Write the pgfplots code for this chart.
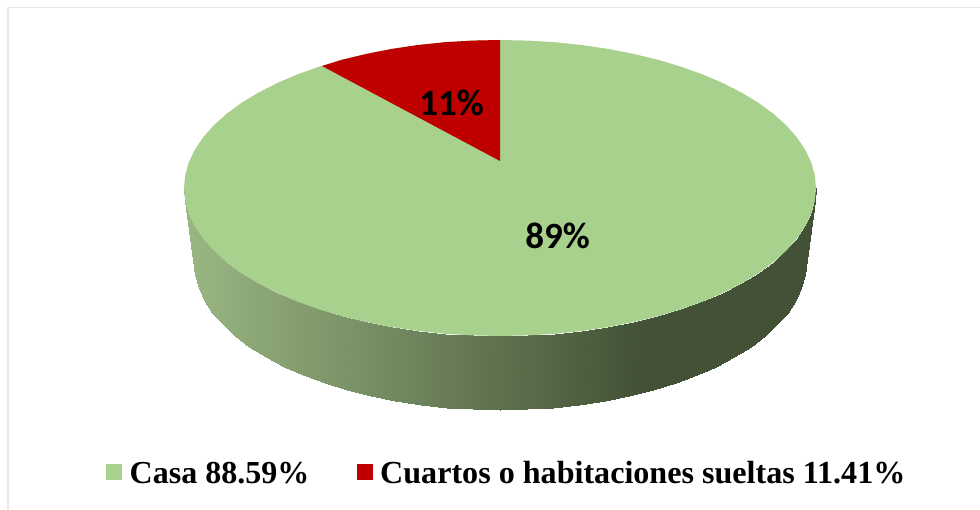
\documentclass[border=0pt]{standalone}
\usepackage{pgfplots}
\pgfplotsset{compat=1.18}
\usepackage{fontspec}
\setmainfont{Liberation Serif}
\newfontfamily\calib{Carlito}
\definecolor{casa}{HTML}{A9D18E}
\definecolor{cuartos}{HTML}{BE0000}
\definecolor{marco}{HTML}{E6E9EC}
\begin{document}
\begin{tikzpicture}
\useasboundingbox (0,0) rectangle (980pt,510pt);
\begin{axis}[
  at={(0,0)}, anchor=south west,
  scale only axis, width=980pt, height=510pt,
  xmin=0, xmax=980, ymin=0, ymax=510, y dir=reverse,
  hide axis, clip=true,
  colormap={lado}{rgb255(0)=(153,182,130) rgb255(6)=(153,182,130) rgb255(456)=(67,82,55) rgb255(632)=(67,82,55)},
  point meta min=184, point meta max=816,
]
% frame
\addplot[marco, line width=1.5pt, forget plot] coordinates {(8,510) (8,7.5) (980,7.5)};
% side of the pie
\addplot[surf, shader=interp, mesh/rows=2, point meta=x, forget plot] table {
x y
184 188
185.2 200.9
188.8 213.7
194.8 226.3
203.1 238.6
213.6 250.5
226.3 262
241.1 272.9
257.9 283.1
276.6 292.7
296.9 301.4
318.7 309.2
342 316.2
366.5 322.1
391.9 327.1
418.2 331
445.1 333.8
472.5 335.4
500 336
527.5 335.4
554.9 333.8
581.8 331
608.1 327.1
633.5 322.1
658 316.2
681.3 309.2
703.1 301.4
723.4 292.7
742.1 283.1
758.9 272.9
773.7 262
786.4 250.5
796.9 238.6
805.2 226.3
811.2 213.7
814.8 200.9
816 188
194 262
195.2 274.9
198.6 287.7
204.4 300.3
212.5 312.6
222.7 324.5
235 336
249.3 346.9
265.6 357.1
283.6 366.7
303.3 375.4
324.5 383.2
347 390.2
370.7 396.1
395.3 401.1
420.8 405
446.9 407.8
473.3 409.4
500 410
526.7 409.4
553.1 407.8
579.2 405
604.7 401.1
629.3 396.1
653 390.2
675.5 383.2
696.7 375.4
716.4 366.7
734.4 357.1
750.7 346.9
765 336
777.3 324.5
787.5 312.6
795.6 300.3
801.4 287.7
804.8 274.9
806 262
};
% top of the pie: Casa
\addplot[fill=casa, draw=none, forget plot] coordinates {
(816,188)(814.8,175.1)(811.2,162.3)(805.2,149.7)(796.9,137.4)(786.4,125.5)(773.7,114)(758.9,103.1)(742.1,92.9)(723.4,83.3)(703.1,74.6)(681.3,66.8)(658,59.8)(633.5,53.9)(608.1,48.9)(581.8,45)(554.9,42.2)(527.5,40.6)(500,40)(472.5,40.6)(445.1,42.2)(418.2,45)(391.9,48.9)(366.5,53.9)(342,59.8)(318.7,66.8)(296.9,74.6)(276.6,83.3)(257.9,92.9)(241.1,103.1)(226.3,114)(213.6,125.5)(203.1,137.4)(194.8,149.7)(188.8,162.3)(185.2,175.1)(184,188)
(185.2,200.9)(188.8,213.7)(194.8,226.3)(203.1,238.6)(213.6,250.5)(226.3,262)(241.1,272.9)(257.9,283.1)(276.6,292.7)(296.9,301.4)(318.7,309.2)(342,316.2)(366.5,322.1)(391.9,327.1)(418.2,331)(445.1,333.8)(472.5,335.4)(500,336)(527.5,335.4)(554.9,333.8)(581.8,331)(608.1,327.1)(633.5,322.1)(658,316.2)(681.3,309.2)(703.1,301.4)(723.4,292.7)(742.1,283.1)(758.9,272.9)(773.7,262)(786.4,250.5)(796.9,238.6)(805.2,226.3)(811.2,213.7)(814.8,200.9)
} -- cycle;
% top of the pie: Cuartos
\addplot[fill=cuartos, draw=none, forget plot] coordinates {
(500,161)(500,40)(472.5,40.6)(445.1,42.2)(418.2,45)(391.9,48.9)(366.5,53.9)(342,59.8)(322,66)
} -- cycle;
% legend keys
\addplot[fill=casa, draw=none, forget plot] coordinates {(106,464)(122,464)(122,480)(106,480)} -- cycle;
\addplot[fill=cuartos, draw=none, forget plot] coordinates {(357,464)(373,464)(373,480)(357,480)} -- cycle;
\node[anchor=center, inner sep=0pt] at (axis cs:557.5,236) {\calib\fontsize{37}{37}\selectfont\bfseries 89\%};
\node[anchor=center, inner sep=0pt] at (axis cs:451.5,103) {\calib\fontsize{37}{37}\selectfont\bfseries 11\%};
\node[anchor=base west, inner sep=0pt] at (axis cs:129.5,483) {\fontsize{32}{32}\selectfont\bfseries Casa 88.59\%};
\node[anchor=base west, inner sep=0pt] at (axis cs:380,483) {\fontsize{32.1}{32}\selectfont\bfseries Cuartos o habitaciones sueltas 11.41\%};
\end{axis}
\end{tikzpicture}
\end{document}
